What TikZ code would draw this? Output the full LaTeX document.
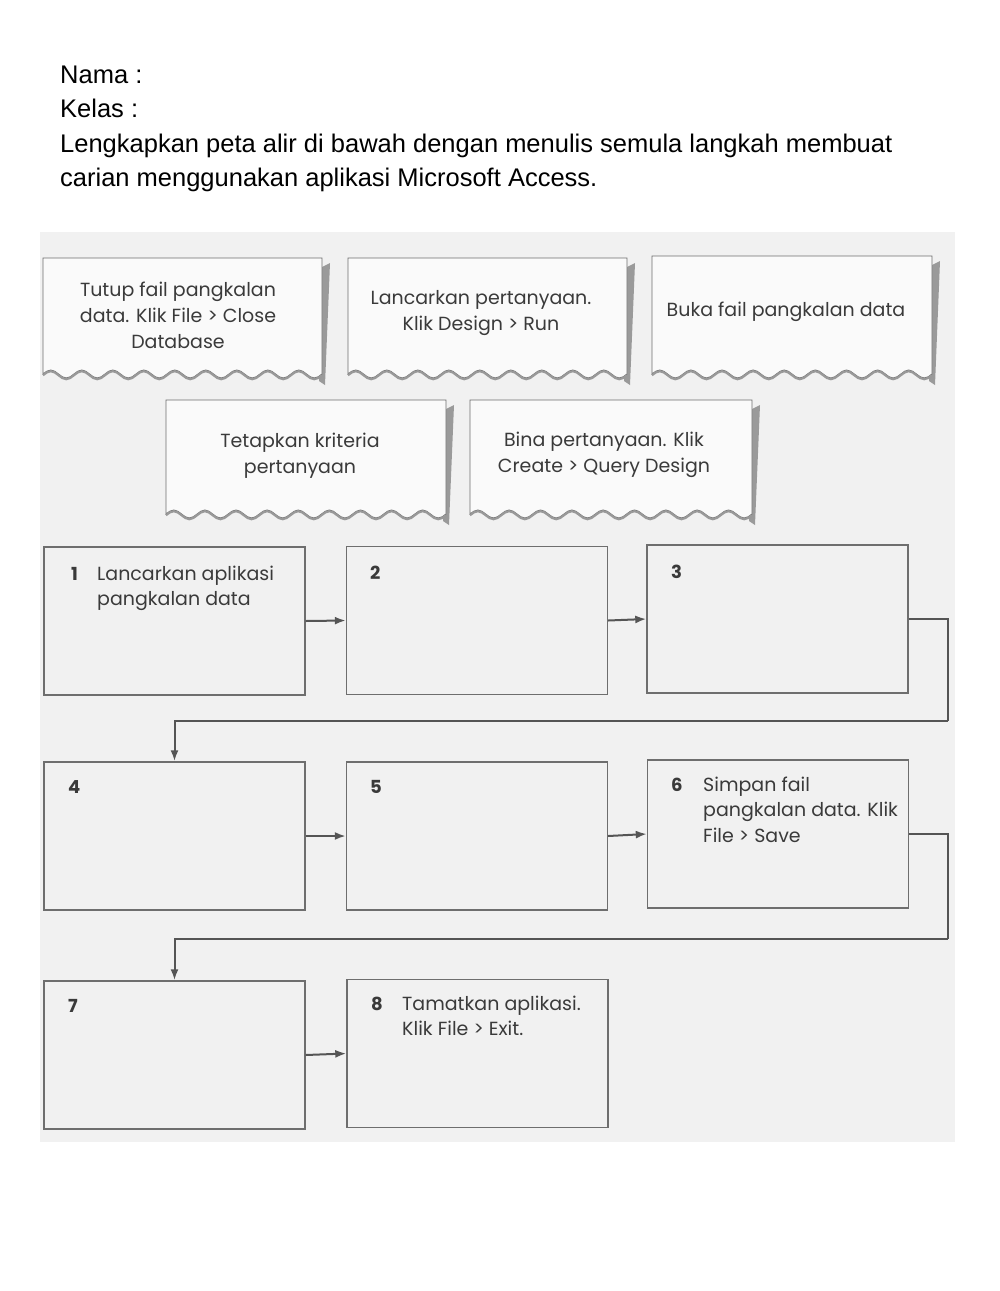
\documentclass[tikz,border=0pt]{standalone}
\usepackage{fontspec}
\setmainfont{Liberation Sans}
\newfontfamily\cardfont{Poppins}
\usetikzlibrary{arrows.meta,calc}
\definecolor{inkc}{HTML}{3A3A3A}
\definecolor{linec}{HTML}{6E6E6E}
\definecolor{connc}{HTML}{555555}
\definecolor{scanbg}{HTML}{F1F1F1}
\definecolor{cardbg}{HTML}{FAFAFA}
\definecolor{shadowc}{HTML}{9A9A9A}
\tikzset{
  hdr/.style={anchor=base west, inner sep=0, font=\fontsize{25.5}{34.5}\selectfont, align=left},
  cardtxt/.style={inner sep=0, font=\cardfont\fontsize{19}{26}\selectfont, text=inkc, align=center},
  boxtxt/.style={anchor=base west, inner sep=0, font=\cardfont\fontsize{19}{25.5}\selectfont, text=inkc, align=left},
  numtxt/.style={anchor=base west, inner sep=0, font=\cardfont\bfseries\fontsize{18}{25.5}\selectfont, text=inkc},
  flowbox/.style={draw=linec, line width=1.4pt, minimum width=261pt, minimum height=148pt, inner sep=0},
  conn/.style={draw=connc, line width=2pt},
  arr/.style={draw=connc, line width=2pt, -{Latex[length=11pt,width=8pt]}},
  cardbody/.style={fill=cardbg, draw=linec, line width=0.9pt},
  wave/.style={draw=gray!80, line width=2.2pt},
}
% #1 x0, #2 top y, #3 x1, #4 bottom y ; 9 waves along the bottom
\newcommand\tornCard[4]{%
  \pgfmathsetmacro\qw{(#3-#1)/36}%
  \fill[shadowc] (#3,#2+9) -- (#3+8,#2+5) -- (#3+3,#4+11) -- (#3-3,#4+7) -- cycle;
  \filldraw[cardbody] (#1,#4)
     \foreach \i in {1,...,9} { sin ++(\qw,-4) cos ++(\qw,4) sin ++(\qw,4) cos ++(\qw,-4) }
     -- (#3,#2) -- (#1,#2) -- cycle;
  \draw[wave] (#1,#4+1.2)
     \foreach \i in {1,...,9} { sin ++(\qw,-4) cos ++(\qw,4) sin ++(\qw,4) cos ++(\qw,-4) };
}
\begin{document}
\begin{tikzpicture}[x=1pt,y=-1pt]
\useasboundingbox[fill=white] (0,0) rectangle (1000,1291);
\fill[scanbg] (40,232) rectangle (955,1142);

% header
\node[hdr] (h1) at (60,83) {Nama :};
\node[hdr] (h2) at (60,117.5) {Kelas :};
\node[hdr] (h3) at (60,152) {Lengkapkan peta alir di bawah dengan menulis semula langkah membuat};
\node[hdr] (h4) at (60,186.5) {carian menggunakan aplikasi Microsoft Access.};

% torn cards
\tornCard{43}{258}{322}{374}
\tornCard{348}{258}{627}{374}
\tornCard{652}{256}{932}{374}
\tornCard{166}{400}{446}{514}
\tornCard{470}{400}{752}{514}
\node[cardtxt] (c1) at (178,315) {Tutup fail pangkalan\\data. Klik File > Close\\Database};
\node[cardtxt] (c2) at (481,313) {Lancarkan pertanyaan.\\Klik Design > Run};
\node[cardtxt] (c3) at (786,312) {Buka fail pangkalan data};
\node[cardtxt] (c4) at (300,456) {Tetapkan kriteria\\pertanyaan};
\node[cardtxt] (c5) at (604,455) {Bina pertanyaan. Klik\\Create > Query Design};

% flow boxes
\node[flowbox] (b1) at (174.5,621) {};
\node[flowbox] (b2) at (477,620.5) {};
\node[flowbox] (b3) at (777.5,619) {};
\node[flowbox] (b4) at (174.5,836) {};
\node[flowbox] (b5) at (477,836) {};
\node[flowbox] (b6) at (778,834) {};
\node[flowbox] (b7) at (174.5,1055) {};
\node[flowbox] (b8) at (477.5,1053.5) {};

% numbers and texts (multi-line texts anchored at the baseline of their last line)
\node[numtxt] (n1) at (71,580) {1};
\node[boxtxt] (t1) at (97,605.5) {Lancarkan aplikasi\\pangkalan data};
\node[numtxt] (n2) at (370,579) {2};
\node[numtxt] (n3) at (671,578) {3};
\node[numtxt] (n4) at (68,793) {4};
\node[numtxt] (n5) at (370,793) {5};
\node[numtxt] (n6) at (671,791) {6};
\node[boxtxt] (t6) at (703,842) {Simpan fail\\pangkalan data. Klik\\File > Save};
\node[numtxt] (n7) at (68,1012) {7};
\node[numtxt] (n8) at (371,1010) {8};
\node[boxtxt] (t8) at (402,1035.5) {Tamatkan aplikasi.\\Klik File > Exit.};

% connectors
\draw[arr] (b1.east) -- (b2.west);
\draw[arr] (b2.east) -- (b3.west);
\draw[arr] (b4.east) -- (b5.west);
\draw[arr] (b5.east) -- (b6.west);
\draw[arr] (b7.east) -- (b8.west);
\coordinate (r1) at (948,721);
\coordinate (r2) at (948,939);
\draw[conn] (b3.east) -| (r1);
\draw[arr] (r1) -- (r1 -| b4.north) -- (b4.north);
\draw[conn] (b6.east) -| (r2);
\draw[arr] (r2) -- (r2 -| b7.north) -- (b7.north);
\end{tikzpicture}
\end{document}
